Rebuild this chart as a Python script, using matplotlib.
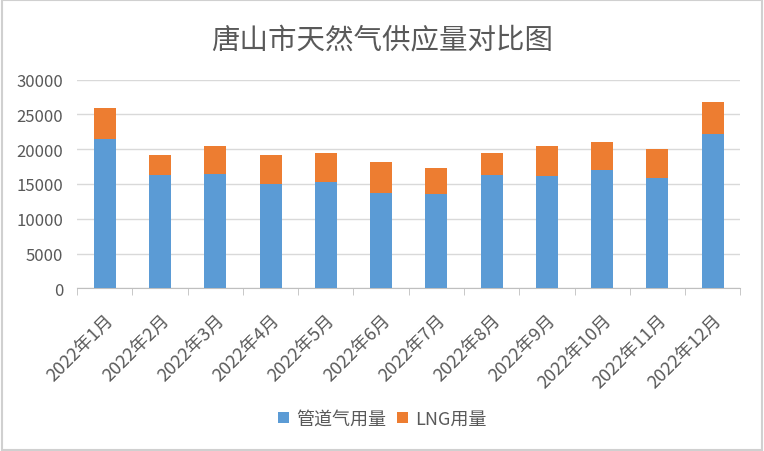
import matplotlib
matplotlib.use("Agg")
import matplotlib.pyplot as plt
import numpy as np
from matplotlib.patches import Rectangle

plt.rcParams['font.family'] = ['Noto Sans CJK SC', 'DejaVu Sans']

months = ['2022年1月', '2022年2月', '2022年3月', '2022年4月', '2022年5月', '2022年6月',
          '2022年7月', '2022年8月', '2022年9月', '2022年10月', '2022年11月', '2022年12月']
pipe_gas = [21400, 16350, 16400, 15050, 15250, 13700, 13500, 16250, 16100, 17000, 15850, 22200]
total = [25900, 19150, 20400, 19150, 19450, 18100, 17300, 19450, 20450, 21050, 20000, 26750]
lng = [t - p for t, p in zip(total, pipe_gas)]

fig = plt.figure(figsize=(7.64, 4.52), dpi=100)
ax = fig.add_axes([0.101, 0.36, 0.868, 0.4615])

x = np.arange(len(months))
ax.bar(x, pipe_gas, width=0.4, color='#5B9BD5', label='管道气用量', zorder=3)
ax.bar(x, lng, width=0.4, bottom=pipe_gas, color='#ED7D31', label='LNG用量', zorder=3)

ax.set_xlim(-0.5, len(months) - 0.5)
ax.set_ylim(0, 30000)
ax.set_yticks(range(0, 30001, 5000))
ax.yaxis.grid(True, color='#d9d9d9', linewidth=1, zorder=0)
for s in ['top', 'right', 'left']:
    ax.spines[s].set_visible(False)
ax.spines['bottom'].set_color('#bfbfbf')
ax.tick_params(axis='y', length=0, labelsize=12, colors='#595959', pad=10)

ax.set_xticks(x)
ax.set_xticklabels(months, rotation=45, ha='right', rotation_mode='anchor',
                   fontsize=13, color='#595959')
ax.set_xticks(np.arange(-0.5, len(months)), minor=True)
ax.tick_params(axis='x', which='major', length=0, pad=16)
ax.tick_params(axis='x', which='minor', length=5, color='#bfbfbf')

fig.text(0.5, 0.91, '唐山市天然气供应量对比图', ha='center', va='center',
         fontsize=20.5, color='#595959')

ax.legend(loc='center', bbox_to_anchor=(0.5, 0.071), bbox_transform=fig.transFigure,
          ncol=2, frameon=False, fontsize=13, handlelength=0.6, handleheight=0.6,
          handletextpad=0.4, columnspacing=0.6, labelcolor='#595959')

fig.patches.append(Rectangle((0.002, 0.003), 0.996, 0.994, transform=fig.transFigure,
                             fill=False, edgecolor='#d0d0d0', linewidth=1.5))

fig.savefig('out.png', dpi=100)
